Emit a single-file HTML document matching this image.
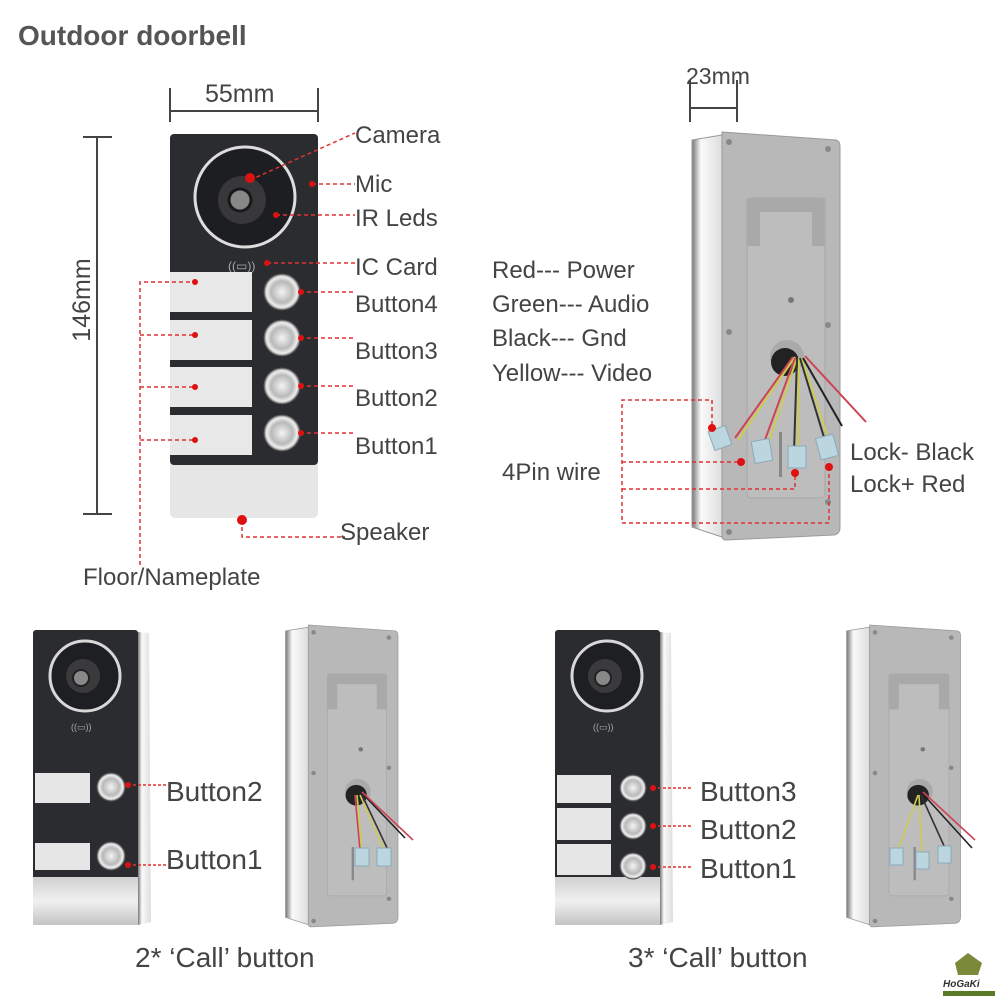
<!DOCTYPE html>
<html><head><meta charset="utf-8"><style>
html,body{margin:0;padding:0;background:#fff;width:1000px;height:1008px;overflow:hidden}
svg{display:block}
text{font-family:"Liberation Sans",sans-serif;fill:#444}
</style></head><body>
<svg width="1000" height="1008" viewBox="0 0 1000 1008" xmlns="http://www.w3.org/2000/svg">
<defs>
<radialGradient id="btn" cx="0.5" cy="0.5" r="0.5">
<stop offset="0" stop-color="#f4f4f4"/><stop offset="0.6" stop-color="#b9b9b9"/><stop offset="0.85" stop-color="#eee"/><stop offset="1" stop-color="#777"/>
</radialGradient>
<linearGradient id="silv" x1="0" y1="0" x2="0" y2="1">
<stop offset="0" stop-color="#d0d0d0"/><stop offset="0.5" stop-color="#f0f0f0"/><stop offset="1" stop-color="#c4c4c4"/>
</linearGradient>
<linearGradient id="side" x1="0" y1="0" x2="1" y2="0">
<stop offset="0" stop-color="#777"/><stop offset="0.3" stop-color="#fafafa"/><stop offset="1" stop-color="#ddd"/>
</linearGradient>
<g id="back">
<path d="M2 8 L32 3 L32 405 L2 395 Z" fill="url(#side)" stroke="#999" stroke-width="1"/>
<path d="M32 0 L146 8 Q150 9 150 14 L150 395 Q150 402 144 403 L36 408 Q32 408 32 404 Z" fill="#b8b8b8" stroke="#9a9a9a"/>
<rect x="57" y="66" width="78" height="300" rx="4" fill="#bdbdbd" stroke="#a8a8a8"/>
<rect x="57" y="66" width="78" height="48" fill="#a9a9a9"/>
<rect x="70" y="80" width="52" height="34" fill="#bdbdbd"/>
<circle cx="101" cy="168" r="3" fill="#777"/>
<circle cx="97" cy="225" r="17" fill="#aaa"/>
<circle cx="95" cy="230" r="14" fill="#222"/>
<circle cx="39" cy="10" r="3" fill="#888"/><circle cx="138" cy="17" r="3" fill="#888"/>
<circle cx="39" cy="200" r="3" fill="#888"/><circle cx="138" cy="193" r="3" fill="#888"/>
<circle cx="138" cy="370" r="3" fill="#888"/><circle cx="39" cy="400" r="3" fill="#888"/>
<rect x="89" y="300" width="3" height="45" fill="#888"/>
</g>
<g id="front">
<path d="M105 2 L116 3 L118 292 L105 295 Z" fill="url(#side)"/>
<rect x="0" y="0" width="105" height="250" rx="3" fill="#2b2c30"/>
<rect x="0" y="247" width="105" height="48" fill="url(#silv)"/>
<circle cx="52" cy="46" r="35" fill="#1e1f22" stroke="#d8d8d8" stroke-width="3"/>
<circle cx="50" cy="46" r="17" fill="#3a3a3c"/>
<circle cx="48" cy="48" r="8" fill="#888" stroke="#222" stroke-width="2"/>
<text x="38" y="100" style="font-size:9px;fill:#aaa">((▭))</text>
</g>
</defs>

<text x="18" y="45" style="font-size:28px;font-weight:bold;fill:#555">Outdoor doorbell</text>

<g stroke="#444" stroke-width="2">
<line x1="170" y1="88" x2="170" y2="122"/><line x1="318" y1="88" x2="318" y2="122"/>
<line x1="170" y1="111" x2="318" y2="111"/>
<line x1="83" y1="137" x2="112" y2="137"/><line x1="83" y1="514" x2="112" y2="514"/>
<line x1="97" y1="137" x2="97" y2="514"/>
</g>
<text x="205" y="102" style="font-size:25px">55mm</text>
<text transform="translate(90,300) rotate(-90)" text-anchor="middle" style="font-size:25px">146mm</text>

<rect x="170" y="134" width="148" height="384" rx="5" fill="#e6e6e6"/>
<rect x="170" y="134" width="148" height="331" rx="4" fill="#2b2c30"/>
<circle cx="245" cy="197" r="50" fill="#1d1e21" stroke="#ddd" stroke-width="3"/>
<circle cx="242" cy="200" r="24" fill="#38383b"/>
<circle cx="240" cy="200" r="11" fill="#888" stroke="#1a1a1a" stroke-width="3"/>
<text x="228" y="270" style="font-size:12px;fill:#aaa">((▭))</text>
<g fill="#e8e8e8">
<rect x="170" y="272" width="82" height="40"/><rect x="170" y="320" width="82" height="40"/>
<rect x="170" y="367" width="82" height="40"/><rect x="170" y="415" width="82" height="40"/>
</g>
<g fill="url(#btn)" stroke="#555" stroke-width="1">
<circle cx="282" cy="292" r="18"/><circle cx="282" cy="338" r="18"/>
<circle cx="282" cy="386" r="18"/><circle cx="282" cy="433" r="18"/>
</g>
<g stroke="#d33" stroke-width="1.5" stroke-dasharray="4,3" fill="none">
<path d="M250 180 L355 133"/><path d="M312 184 L355 184"/><path d="M276 215 L355 215"/>
<path d="M267 263 L355 263"/><path d="M300 292 L355 292"/><path d="M300 338 L355 338"/>
<path d="M300 386 L355 386"/><path d="M300 433 L355 433"/>
<path d="M242 520 L242 537 L345 537"/>
<path d="M140 565 L140 282 L195 282"/><path d="M140 335 L195 335"/><path d="M140 387 L195 387"/><path d="M140 440 L195 440"/>
</g>
<g fill="#d11">
<circle cx="250" cy="178" r="5"/><circle cx="312" cy="184" r="3"/><circle cx="276" cy="215" r="3"/>
<circle cx="267" cy="263" r="3"/><circle cx="301" cy="292" r="3"/><circle cx="301" cy="338" r="3"/>
<circle cx="301" cy="386" r="3"/><circle cx="301" cy="433" r="3"/><circle cx="242" cy="520" r="5"/>
<circle cx="195" cy="282" r="3"/><circle cx="195" cy="335" r="3"/><circle cx="195" cy="387" r="3"/><circle cx="195" cy="440" r="3"/>
</g>
<g style="font-size:24px">
<text x="355" y="143">Camera</text><text x="355" y="192">Mic</text><text x="355" y="226">IR Leds</text>
<text x="355" y="275">IC Card</text><text x="355" y="312">Button4</text><text x="355" y="359">Button3</text>
<text x="355" y="406">Button2</text><text x="355" y="454">Button1</text>
<text x="340" y="540">Speaker</text><text x="83" y="585">Floor/Nameplate</text>
</g>

<g stroke="#444" stroke-width="2">
<line x1="690" y1="80" x2="690" y2="122"/><line x1="737" y1="80" x2="737" y2="122"/>
<line x1="690" y1="108" x2="737" y2="108"/>
</g>
<text x="686" y="84" style="font-size:23px">23mm</text>
<use href="#back" transform="translate(690,132)"/>
<g stroke-width="2" fill="none">
<path d="M793 357 L735 438" stroke="#c45"/><path d="M795 357 L738 440" stroke="#cc5"/>
<path d="M795 358 L762 448" stroke="#c45"/><path d="M797 358 L766 450" stroke="#cc5"/>
<path d="M797 358 L794 452" stroke="#333"/><path d="M799 358 L798 452" stroke="#cc5"/>
<path d="M800 358 L826 444" stroke="#333"/><path d="M802 358 L830 444" stroke="#cc5"/>
<path d="M803 358 L842 426" stroke="#222"/><path d="M805 356 L866 422" stroke="#c45"/>
</g>
<g fill="#bcd6e0" stroke="#8ab">
<rect x="711" y="428" width="18" height="20" transform="rotate(-20 720 438)"/>
<rect x="753" y="440" width="18" height="22" transform="rotate(-10 762 451)"/>
<rect x="788" y="446" width="18" height="22"/>
<rect x="818" y="436" width="18" height="22" transform="rotate(-15 827 447)"/>
</g>
<g stroke="#d33" stroke-width="1.5" stroke-dasharray="4,3" fill="none">
<path d="M712 425 L712 400 L622 400 L622 523 L829 523 L829 468"/>
<path d="M622 462 L741 462"/><path d="M622 489 L795 489 L795 473"/>
</g>
<g fill="#d11"><circle cx="712" cy="428" r="4"/><circle cx="741" cy="462" r="4"/><circle cx="795" cy="473" r="4"/><circle cx="829" cy="467" r="4"/></g>
<g style="font-size:24px">
<text x="492" y="278">Red--- Power</text><text x="492" y="312">Green--- Audio</text>
<text x="492" y="346">Black--- Gnd</text><text x="492" y="381">Yellow--- Video</text>
<text x="502" y="480">4Pin wire</text>
<text x="850" y="460">Lock- Black</text><text x="850" y="492">Lock+ Red</text>
</g>

<use href="#front" transform="translate(33,630)"/>
<g fill="#e6e6e6"><rect x="35" y="773" width="55" height="30"/><rect x="35" y="843" width="55" height="27"/></g>
<g fill="url(#btn)" stroke="#555"><circle cx="111" cy="787" r="14"/><circle cx="111" cy="856" r="14"/></g>
<g stroke="#d33" stroke-width="1.5" stroke-dasharray="3,2"><line x1="128" y1="785" x2="166" y2="785"/><line x1="128" y1="865" x2="166" y2="865"/></g>
<g fill="#d11"><circle cx="128" cy="785" r="3"/><circle cx="128" cy="865" r="3"/></g>
<g style="font-size:28px"><text x="166" y="801">Button2</text><text x="166" y="869">Button1</text></g>
<use href="#back" transform="translate(284,625) scale(0.76,0.74)"/>
<g stroke-width="1.6" fill="none">
<path d="M357 795 L362 850" stroke="#cc5"/><path d="M355 795 L360 850" stroke="#c45"/>
<path d="M360 795 L384 850" stroke="#cc5"/><path d="M362 795 L388 850" stroke="#333"/>
<path d="M362 793 L405 838" stroke="#222"/><path d="M362 792 L413 840" stroke="#c45"/>
</g>
<g fill="#bcd6e0" stroke="#8ab"><rect x="355" y="848" width="14" height="18"/><rect x="377" y="848" width="14" height="18"/></g>
<text x="135" y="967" style="font-size:28px">2* ‘Call’ button</text>

<use href="#front" transform="translate(555,630)"/>
<g fill="#e6e6e6"><rect x="557" y="775" width="54" height="28"/><rect x="557" y="808" width="54" height="32"/><rect x="557" y="844" width="54" height="31"/></g>
<g fill="url(#btn)" stroke="#555"><circle cx="633" cy="788" r="13"/><circle cx="633" cy="826" r="13"/><circle cx="633" cy="866" r="13"/></g>
<g stroke="#d33" stroke-width="1.5" stroke-dasharray="3,2"><line x1="653" y1="788" x2="692" y2="788"/><line x1="653" y1="826" x2="692" y2="826"/><line x1="653" y1="867" x2="692" y2="867"/></g>
<g fill="#d11"><circle cx="653" cy="788" r="3"/><circle cx="653" cy="826" r="3"/><circle cx="653" cy="867" r="3"/></g>
<g style="font-size:28px"><text x="700" y="801">Button3</text><text x="700" y="839">Button2</text><text x="700" y="878">Button1</text></g>
<use href="#back" transform="translate(845,625) scale(0.77,0.74)"/>
<g stroke-width="1.6" fill="none">
<path d="M918 795 L898 850" stroke="#cc5"/><path d="M919 795 L922 852" stroke="#cc5"/>
<path d="M921 795 L945 848" stroke="#333"/><path d="M922 793 L972 848" stroke="#222"/>
<path d="M923 792 L975 840" stroke="#c45"/>
</g>
<g fill="#bcd6e0" stroke="#8ab"><rect x="890" y="848" width="13" height="17"/><rect x="916" y="852" width="13" height="17"/><rect x="938" y="846" width="13" height="17"/></g>
<text x="628" y="967" style="font-size:28px">3* ‘Call’ button</text>

<path d="M955 963 L968 953 L982 963 L978 975 L958 975 Z" fill="#7a8a3a"/>
<text x="943" y="987" style="font-size:10px;font-weight:bold;font-style:italic;fill:#333">HoGaKi</text>
<rect x="943" y="991" width="52" height="5" fill="#5a7a2a"/>
</svg>
</body></html>
